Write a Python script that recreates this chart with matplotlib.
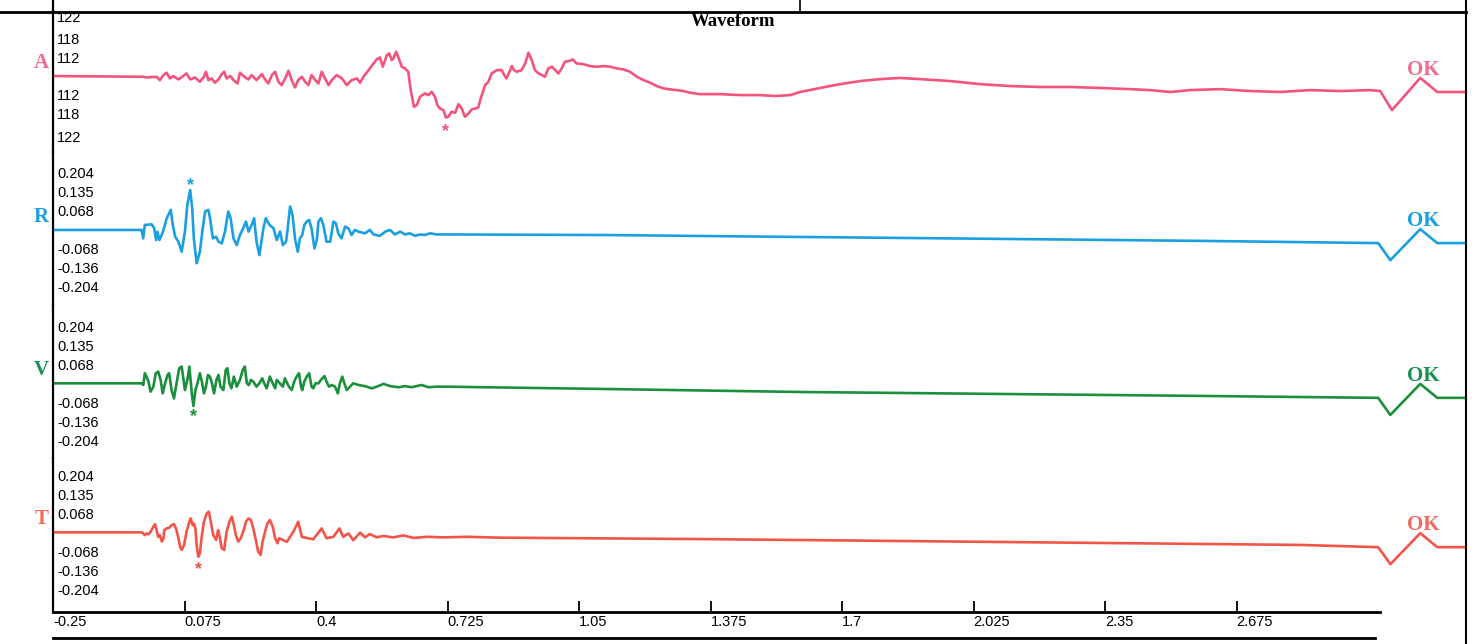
import matplotlib.pyplot as plt
from matplotlib.lines import Line2D

# ---- data read from the record (time in s) ----
# A: air overpressure (Pa), labels on the scale are dB
a_t = [-0.250, -0.027, -0.018, 0.006, 0.014, 0.023, 0.031, 0.039, 0.047, 0.060,
       0.072, 0.080, 0.089, 0.101, 0.113, 0.122, 0.128, 0.134, 0.142, 0.150,
       0.159, 0.167, 0.173, 0.179, 0.188, 0.196, 0.206, 0.212, 0.225, 0.233,
       0.241, 0.253, 0.266, 0.274, 0.282, 0.291, 0.299, 0.307, 0.315, 0.324,
       0.332, 0.340, 0.348, 0.356, 0.365, 0.373, 0.381, 0.389, 0.398, 0.406,
       0.414, 0.422, 0.431, 0.439, 0.451, 0.464, 0.476, 0.488, 0.501, 0.509,
       0.517, 0.530, 0.542, 0.550, 0.558, 0.565, 0.575, 0.581, 0.587, 0.591,
       0.598, 0.603, 0.612, 0.620, 0.628, 0.634, 0.642, 0.649, 0.657, 0.669,
       0.678, 0.686, 0.694, 0.700, 0.706, 0.715, 0.721, 0.727, 0.735, 0.744,
       0.752, 0.760, 0.768, 0.777, 0.785, 0.795, 0.801, 0.807, 0.818, 0.826,
       0.834, 0.847, 0.859, 0.865, 0.871, 0.878, 0.884, 0.889, 0.896, 0.908,
       0.917, 0.925, 0.933, 0.941, 0.950, 0.958, 0.966, 0.974, 0.983, 0.991,
       0.999, 1.007, 1.015, 1.028, 1.034, 1.044, 1.061, 1.077, 1.094, 1.110,
       1.127, 1.143, 1.160, 1.176, 1.193, 1.209, 1.226, 1.242, 1.259, 1.275,
       1.291, 1.308, 1.324, 1.349, 1.399, 1.448, 1.497, 1.535, 1.572, 1.596,
       1.646, 1.695, 1.745, 1.794, 1.843, 1.893, 1.967, 2.041, 2.115, 2.189,
       2.264, 2.338, 2.412, 2.461, 2.511, 2.560, 2.634, 2.708, 2.783, 2.857,
       2.931, 3.005, 3.030, 3.059, 3.129, 3.171, 3.242]
a_v = [0.0, -0.3, -0.6, -0.3, -1.7, 0.4, 1.4, -1.0, 0.0, -1.4,
       0.0, 1.1, -1.4, -0.6, -2.4, -0.6, 1.8, -1.7, -1.0, -2.8,
       -1.4, 0.8, 1.8, -1.0, 0.0, -1.7, -3.1, 1.4, -0.6, -1.4,
       0.4, -1.7, 0.8, -1.4, -3.1, 0.4, 1.8, -2.4, -3.8, -1.0,
       2.2, -1.7, -4.8, -1.7, -0.3, -2.4, -3.8, 0.4, -1.7, -3.1,
       1.8, -1.0, -3.8, -1.7, 0.4, -1.0, -3.8, -1.7, -1.0, -2.8,
       -0.3, 2.5, 5.3, 7.0, 7.8, 3.9, 8.8, 9.5, 6.7, 7.4,
       10.2, 8.1, 3.9, 3.2, 1.8, -5.9, -12.9, -12.2, -8.7, -7.3,
       -8.0, -6.6, -8.7, -12.2, -13.6, -14.3, -17.4, -17.1, -15.0, -15.4,
       -11.8, -13.6, -17.1, -15.7, -14.0, -13.6, -13.2, -9.4, -3.8, -2.4,
       1.1, 2.5, 2.5, 0.4, -1.0, 1.8, 4.2, 2.5, 1.8, 2.5,
       5.3, 9.8, 6.7, 2.5, 1.1, 0.4, -0.3, 3.2, 3.9, 2.5,
       1.1, 3.2, 6.0, 6.4, 7.0, 5.3, 5.0, 4.2, 3.9, 4.2,
       3.9, 3.2, 2.8, 1.8, -0.3, -1.7, -2.8, -4.2, -5.2, -5.6,
       -5.9, -6.3, -7.0, -7.6, -7.6, -8.0, -8.0, -8.4, -8.0, -6.7,
       -5.0, -3.4, -2.1, -1.3, -0.8, -1.3, -2.1, -3.4, -4.2, -4.6,
       -4.6, -5.0, -5.5, -5.9, -6.7, -5.9, -5.5, -6.3, -6.7, -5.9,
       -6.3, -5.9, -6.3, -14.3, -0.8, -6.7, -6.7]

# R: radial (in/s)
r_t = [-0.250, -0.031, -0.027, -0.023, -0.006, 0.000, 0.005, 0.008, 0.013, 0.019,
       0.023, 0.031, 0.041, 0.046, 0.052, 0.060, 0.068, 0.076, 0.082, 0.089,
       0.094, 0.098, 0.105, 0.113, 0.120, 0.126, 0.134, 0.138, 0.145, 0.153,
       0.159, 0.167, 0.175, 0.183, 0.189, 0.196, 0.204, 0.212, 0.220, 0.227,
       0.233, 0.241, 0.247, 0.253, 0.260, 0.270, 0.276, 0.285, 0.295, 0.303,
       0.311, 0.318, 0.326, 0.330, 0.336, 0.342, 0.348, 0.355, 0.360, 0.366,
       0.371, 0.377, 0.383, 0.389, 0.396, 0.402, 0.406, 0.412, 0.418, 0.426,
       0.435, 0.443, 0.449, 0.455, 0.463, 0.472, 0.480, 0.488, 0.496, 0.505,
       0.521, 0.533, 0.542, 0.558, 0.571, 0.583, 0.595, 0.608, 0.620, 0.632,
       0.645, 0.657, 0.669, 0.682, 0.698, 0.719, 1.102, 1.596, 2.091, 2.585,
       3.025, 3.055, 3.129, 3.171, 3.242]
r_v = [0.0, 0.0, -0.030, 0.018, 0.020, 0.006, -0.036, -0.006, -0.036, -0.016,
       0.0, 0.042, 0.072, 0.018, -0.024, -0.042, -0.078, -0.006, 0.090, 0.143,
       0.078, -0.030, -0.119, -0.078, 0.006, 0.066, 0.072, 0.042, -0.030, -0.024,
       -0.042, -0.048, -0.006, 0.066, 0.042, -0.030, -0.054, -0.018, 0.006, 0.030,
       -0.006, 0.018, 0.042, -0.042, -0.090, 0.006, 0.042, 0.018, 0.006, -0.036,
       -0.006, -0.054, -0.042, 0.006, 0.084, 0.054, -0.030, -0.078, -0.030, -0.018,
       0.018, 0.030, 0.036, 0.006, -0.066, -0.036, 0.030, 0.042, 0.018, -0.042,
       -0.042, 0.030, 0.024, -0.012, -0.030, 0.012, 0.006, -0.018, 0.0, -0.006,
       -0.012, 0.0, -0.016, -0.021, -0.006, 0.0, -0.016, -0.006, -0.016, -0.012,
       -0.021, -0.016, -0.018, -0.012, -0.016, -0.016, -0.018, -0.025, -0.032, -0.039,
       -0.047, -0.108, 0.003, -0.047, -0.047]

# V: vertical (in/s)
v_t = [-0.250, -0.031, -0.027, -0.023, -0.019, -0.014, -0.009, -0.002, 0.004, 0.010,
       0.016, 0.021, 0.027, 0.033, 0.037, 0.043, 0.049, 0.056, 0.062, 0.068,
       0.072, 0.076, 0.082, 0.087, 0.093, 0.097, 0.102, 0.107, 0.113, 0.118,
       0.123, 0.128, 0.133, 0.138, 0.143, 0.148, 0.154, 0.159, 0.164, 0.171,
       0.177, 0.181, 0.186, 0.191, 0.197, 0.204, 0.212, 0.219, 0.224, 0.229,
       0.234, 0.239, 0.245, 0.253, 0.260, 0.267, 0.272, 0.278, 0.286, 0.293,
       0.299, 0.303, 0.311, 0.318, 0.323, 0.333, 0.340, 0.346, 0.352, 0.358,
       0.363, 0.366, 0.371, 0.377, 0.383, 0.389, 0.393, 0.399, 0.406, 0.412,
       0.421, 0.426, 0.432, 0.439, 0.447, 0.454, 0.459, 0.465, 0.470, 0.476,
       0.484, 0.492, 0.505, 0.521, 0.538, 0.550, 0.567, 0.583, 0.604, 0.620,
       0.636, 0.661, 0.678, 0.698, 0.719, 1.102, 1.596, 2.091, 2.585, 3.025,
       3.055, 3.129, 3.171, 3.242]
v_v = [0.0, 0.0, -0.006, 0.036, 0.024, 0.006, -0.030, -0.012, 0.036, 0.042,
       0.012, -0.036, 0.0, 0.030, 0.036, -0.024, -0.054, 0.006, 0.054, 0.060,
       0.018, -0.024, 0.012, 0.060, -0.036, -0.081, -0.024, 0.0, 0.036, 0.006,
       -0.036, -0.012, 0.030, 0.024, 0.0, -0.036, 0.012, 0.030, -0.012, -0.024,
       0.048, 0.054, 0.0, -0.018, 0.024, -0.012, 0.012, 0.048, 0.060, 0.0,
       -0.006, 0.012, 0.006, -0.012, 0.0, 0.018, 0.0, -0.018, 0.024, 0.0,
       -0.018, 0.012, 0.0, -0.012, 0.018, -0.012, -0.024, 0.006, 0.024, 0.036,
       -0.012, -0.024, 0.006, 0.024, 0.036, -0.012, -0.018, 0.0, 0.0, 0.012,
       0.026, 0.006, -0.012, -0.006, -0.012, -0.036, 0.0, 0.024, 0.0, -0.024,
       -0.012, 0.0, -0.006, -0.010, -0.018, -0.012, -0.002, -0.010, -0.014, -0.010,
       -0.014, -0.006, -0.014, -0.012, -0.012, -0.020, -0.031, -0.038, -0.045, -0.052,
       -0.113, -0.002, -0.052, -0.052]

# T: transverse (in/s)
t_t = [-0.250, -0.031, -0.027, -0.023, -0.019, -0.014, -0.009, -0.002, 0.002, 0.006,
       0.010, 0.014, 0.019, 0.023, 0.025, 0.031, 0.038, 0.043, 0.049, 0.054,
       0.060, 0.064, 0.068, 0.074, 0.080, 0.087, 0.090, 0.095, 0.098, 0.102,
       0.105, 0.109, 0.113, 0.117, 0.123, 0.130, 0.135, 0.140, 0.146, 0.153,
       0.158, 0.161, 0.167, 0.173, 0.179, 0.186, 0.192, 0.197, 0.202, 0.208,
       0.214, 0.220, 0.227, 0.233, 0.239, 0.245, 0.252, 0.257, 0.263, 0.268,
       0.274, 0.280, 0.286, 0.293, 0.299, 0.305, 0.309, 0.328, 0.344, 0.356,
       0.365, 0.377, 0.393, 0.414, 0.426, 0.443, 0.458, 0.467, 0.480, 0.492,
       0.509, 0.521, 0.533, 0.550, 0.566, 0.591, 0.616, 0.641, 0.674, 0.715,
       0.772, 0.855, 1.349, 1.843, 2.338, 2.832, 3.025, 3.055, 3.129, 3.171,
       3.242]
t_v = [0.0, 0.0, -0.004, -0.010, -0.004, -0.007, 0.002, 0.020, 0.029, 0.008,
       -0.016, -0.010, -0.033, -0.021, 0.008, 0.014, 0.017, 0.026, 0.029, 0.014,
       -0.021, -0.051, -0.063, -0.045, 0.002, 0.038, 0.050, 0.026, 0.032, 0.014,
       -0.045, -0.087, -0.075, -0.021, 0.038, 0.068, 0.074, 0.038, -0.010, -0.027,
       0.008, -0.010, -0.057, -0.063, 0.002, 0.038, 0.056, 0.026, -0.010, -0.033,
       -0.021, 0.002, 0.038, 0.050, 0.044, 0.014, -0.033, -0.069, -0.081, -0.033,
       0.002, 0.032, 0.044, 0.020, -0.021, -0.039, -0.021, -0.034, 0.002, 0.038,
       -0.016, -0.020, -0.025, 0.014, -0.021, -0.016, 0.014, -0.016, -0.004, -0.028,
       -0.001, -0.018, -0.006, -0.018, -0.013, -0.018, -0.011, -0.020, -0.016, -0.018,
       -0.016, -0.019, -0.024, -0.031, -0.038, -0.045, -0.053, -0.114, -0.003, -0.053,
       -0.053]

tick_x = [-0.25, 0.075, 0.4, 0.725, 1.05, 1.375, 1.7, 2.025, 2.35, 2.675]
tick_x_labels = ['-0.25', '0.075', '0.4', '0.725', '1.05', '1.375', '1.7', '2.025', '2.35', '2.675']
a_ticks = [-25.2, -15.9, -7.96, 7.96, 15.9, 25.2]
a_tick_labels = ['122', '118', '112', '112', '118', '122']
g_ticks = [-0.204, -0.136, -0.068, 0.068, 0.136, 0.204]
g_tick_labels = ['-0.204', '-0.136', '-0.068', '0.068', '0.135', '0.204']

# peak marked with a star: (time, value, star offset in px)
a_peak = (0.721, -17.4, -14)
r_peak = (0.089, 0.143, 4)
v_peak = (0.097, -0.081, -11)
t_peak = (0.109, -0.087, -13)

W, H = 1477, 644
fig = plt.figure(figsize=(W / 100, H / 100), dpi=100)


def rect(top, bottom):
    return [53 / W, 1 - bottom / H, (1466 - 53) / W, (bottom - top) / H]


channels = [
    ('A', a_t, a_v, a_ticks, a_tick_labels, a_peak, '#f2547c', '#f26d92', (12, 152), (-31.9, 26.9)),
    ('R', r_t, r_v, g_ticks, g_tick_labels, r_peak, '#1a9fe0', '#1a9fe0', (152, 305), (-0.2685, 0.279)),
    ('V', v_t, v_v, g_ticks, g_tick_labels, v_peak, '#1a8f3c', '#1a9050', (305, 458), (-0.267, 0.280)),
    ('T', t_t, t_v, g_ticks, g_tick_labels, t_peak, '#f25548', '#f26a5e', (458, 612), (-0.285, 0.266)),
]

axes = []
for name, tt, vv, yt, ytl, pk, col, lcol, (top, bot), ylim in channels:
    ax = fig.add_axes(rect(top, bot))
    ax.patch.set_visible(False)
    ax.plot(tt, vv, color=col, linewidth=1.9, solid_joinstyle='round')
    ax.set_xlim(-0.25, 3.242)
    ax.set_ylim(*ylim)
    for s in ['top', 'right', 'bottom']:
        ax.spines[s].set_visible(False)
    ax.spines['left'].set_linewidth(1.6)
    ax.set_yticks(yt)
    ax.set_yticklabels(ytl, fontsize=10.5, family='Liberation Sans')
    ax.tick_params(axis='y', length=0, pad=-3)
    for lab in ax.get_yticklabels():
        lab.set_horizontalalignment('left')
    ax.set_xticks([])
    # star at the peak value
    ax.annotate('*', xy=(pk[0], pk[1]), xytext=(0, pk[2] * 0.72), textcoords='offset points',
                ha='center', va='center', color=col, fontsize=13, fontweight='bold',
                family='Liberation Sans')
    # OK at the calibration pulse
    i_ok = tt.index(3.129)
    ax.annotate('OK', xy=(tt[i_ok], vv[i_ok]), xytext=(2, 6), textcoords='offset points',
                ha='center', va='center', color=lcol, fontsize=15, fontweight='bold',
                family='Liberation Serif')
    # channel letter left of the axis
    ax.annotate(name, xy=(-0.25, 0.0), xytext=(-3, 9.5), textcoords='offset points',
                ha='right', va='center', color=lcol, fontsize=15, fontweight='bold',
                family='Liberation Serif', annotation_clip=False)
    axes.append(ax)

# time axis on the bottom panel
axb = axes[-1]
axb.spines['bottom'].set_visible(True)
axb.spines['bottom'].set_linewidth(2)
axb.spines['bottom'].set_bounds(-0.25, 3.03)
axb.set_xticks(tick_x)
axb.set_xticklabels(tick_x_labels, fontsize=10.5, family='Liberation Sans')
axb.tick_params(axis='x', direction='in', length=8, width=1.3, pad=2)
for lab in axb.get_xticklabels():
    lab.set_horizontalalignment('left')

fig.text(733 / W, 1 - 22 / H, 'Waveform', ha='center', va='center', fontsize=13.5,
         fontweight='bold', family='Liberation Serif')

# frame lines of the printed report
fig.add_artist(Line2D([0, 1466 / W], [1 - 12 / H] * 2, color='black', lw=2))
fig.add_artist(Line2D([53 / W] * 2, [1, 1 - 12 / H], color='black', lw=1.6))
fig.add_artist(Line2D([800 / W] * 2, [1, 1 - 12 / H], color='black', lw=1.2))
fig.add_artist(Line2D([1466 / W] * 2, [0, 1], color='black', lw=1.5))
fig.add_artist(Line2D([53 / W, 1375 / W], [1 - 638 / H] * 2, color='black', lw=2))

fig.savefig('out.png', dpi=100)
